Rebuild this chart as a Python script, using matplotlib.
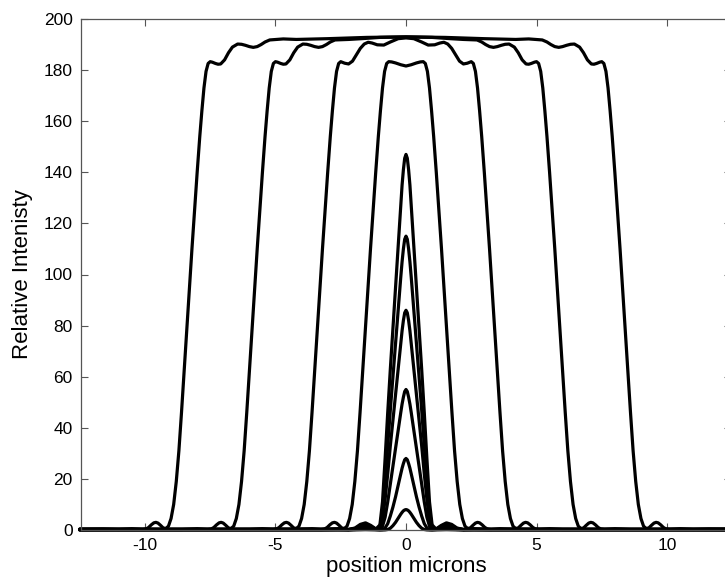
import matplotlib
matplotlib.use("Agg")
import matplotlib.pyplot as plt
import numpy as np

plt.rcParams['font.family'] = ['Liberation Sans', 'DejaVu Sans']
plt.rcParams['axes.unicode_minus'] = False

# ---- data: half-profiles (x >= 0); every curve is symmetric about x = 0 ----
# wide (plateau) curves
a_x = [0, 0.2, 0.4, 0.55, 0.66, 0.74, 0.82, 0.9, 0.98, 1.06, 1.16, 1.26, 1.36, 1.46, 1.56, 1.66, 1.76,
       1.86, 1.96, 2.06, 2.16, 2.26, 2.36, 2.46, 2.56, 2.66, 2.74, 2.82, 2.92, 3.02, 3.12, 3.26, 3.6,
       4.1, 12.5]
a_y = [181.6, 182.1, 182.8, 183.2, 183.3, 182.6, 179.5, 173, 164, 154, 140, 125, 110, 94, 78, 62, 46,
       31, 19, 10, 4.5, 1.5, 0.6, 0.8, 1.8, 2.7, 3.0, 2.8, 2.0, 1.0, 0.4, 0.2, 0.5,
       0.2, 0.3]

b_x = [0, 0.3, 0.6, 0.85, 1.1, 1.3, 1.45, 1.6, 1.75, 1.9, 2.05, 2.2, 2.35, 2.5, 2.58, 2.66, 2.74, 2.82,
       2.9, 3.0, 3.1, 3.2, 3.3, 3.4, 3.5, 3.6, 3.7, 3.8, 3.9, 4.0, 4.1, 4.2, 4.3, 4.4, 4.5, 4.58,
       4.66, 4.76, 4.86, 4.96, 5.1, 5.5, 6.0, 12.5]
b_y = [192.6, 192.3, 191.0, 189.8, 189.9, 190.6, 190.9, 190.2, 188.5, 186, 183.5, 182.4, 182.7, 183.3, 182.6, 179.5, 173, 164,
       154, 140, 125, 110, 94, 78, 62, 46, 31, 19, 10, 4.5, 1.5, 0.6, 0.8, 1.8, 2.7, 3.0,
       2.8, 2.0, 1.0, 0.4, 0.2, 0.5, 0.2, 0.3]

c_x = [0, 1.0, 1.7, 2.2, 2.72, 2.9, 3.05, 3.2, 3.35, 3.5, 3.65, 3.8, 3.95, 4.15, 4.3, 4.45, 4.6, 4.7,
       4.8, 4.92, 5.0, 5.08, 5.16, 5.24, 5.32, 5.4, 5.5, 5.6, 5.7, 5.8, 5.9, 6.0, 6.1, 6.2, 6.3,
       6.4, 6.5, 6.6, 6.7, 6.8, 6.9, 7.0, 7.08, 7.16, 7.26, 7.36, 7.46, 7.6, 8.0, 8.6, 12.5]
c_y = [193.0, 192.8, 192.3, 192.0, 191.8, 191.0, 190.0, 189.2, 188.9, 189.2, 189.7, 190.1, 190.2, 189.0, 186.8, 184.0, 182.4, 182.3,
       182.6, 183.1, 183.3, 182.6, 179.5, 173, 164, 154, 140, 125, 110, 94, 78, 62, 46, 31, 19,
       10, 4.5, 1.5, 0.6, 0.8, 1.8, 2.7, 3.0, 2.8, 2.0, 1.0, 0.4, 0.2, 0.5, 0.2, 0.3]

d_x = [0, 1.5, 3.0, 4.2, 4.7, 5.22, 5.4, 5.55, 5.7, 5.85, 6.0, 6.15, 6.3, 6.45, 6.65, 6.8, 6.95, 7.1,
       7.2, 7.3, 7.42, 7.5, 7.58, 7.66, 7.74, 7.82, 7.9, 8.0, 8.1, 8.2, 8.3, 8.4, 8.5, 8.6, 8.7,
       8.8, 8.9, 9.0, 9.1, 9.2, 9.3, 9.4, 9.5, 9.58, 9.66, 9.76, 9.86, 9.96, 10.1, 10.5, 11.0,
       11.6, 12.5]
d_y = [193.0, 192.8, 192.3, 192.0, 192.2, 191.8, 191.0, 190.0, 189.2, 188.9, 189.2, 189.7, 190.1, 190.2, 189.0, 186.8, 184.0, 182.4,
       182.3, 182.6, 183.1, 183.3, 182.6, 179.5, 173, 164, 154, 140, 125, 110, 94, 78, 62, 46, 31,
       19, 10, 4.5, 1.5, 0.6, 0.8, 1.8, 2.7, 3.0, 2.8, 2.0, 1.0, 0.4, 0.2, 0.5, 0.2,
       0.4, 0.3]

# narrow central peaks
p_x = [0, 0.05, 0.1, 0.15, 0.2, 0.3, 0.4, 0.5, 0.6, 0.7, 0.8, 0.9, 1.0, 1.15, 1.35, 1.55, 1.75, 1.95,
       2.2, 2.6, 3.2, 4.0, 12.5]
p147 = [147, 145.5, 141, 135, 127, 111, 95, 79, 63, 46, 28, 11, 2, 0.4, 1.8, 2.8, 2.2, 0.8,
        0.2, 0.5, 0.3, 0.4, 0.2]
p115 = [115, 113.8, 110, 105, 99, 86, 73, 60, 47, 33, 19, 7, 1.2, 0.3, 1.4, 2.2, 1.7, 0.6,
        0.2, 0.4, 0.3, 0.3, 0.2]
p86 = [86, 85, 82, 78, 73, 63, 53, 43, 33, 22, 12, 4, 0.8, 0.3, 1.0, 1.6, 1.3, 0.5,
       0.2, 0.3, 0.2, 0.2, 0.1]
p55 = [55, 54.2, 52, 49.3, 46, 39, 32, 25, 18, 11, 5, 1.5, 0.4, 0.3, 0.7, 1.0, 0.8, 0.3,
       0.1, 0.2, 0.1, 0.1, 0.1]
p28 = [28, 27.5, 26, 24.2, 22, 17.5, 13, 9, 5.5, 2.5, 0.8, 0.2, 0.1, 0.2, 0.4, 0.5, 0.4, 0.2,
       0.1, 0.1, 0.1, 0.1, 0.1]
p8 = [8, 7.85, 7.5, 6.9, 6.2, 4.6, 3.0, 1.7, 0.7, 0.2, 0.05, 0, 0, 0.05, 0.1, 0.15, 0.1, 0.05,
      0, 0, 0, 0, 0]

x_ticks = [-10, -5, 0, 5, 10]
y_ticks = [0, 20, 40, 60, 80, 100, 120, 140, 160, 180, 200]

curves = [(a_x, a_y), (b_x, b_y), (c_x, c_y), (d_x, d_y),
          (p_x, p147), (p_x, p115), (p_x, p86), (p_x, p55), (p_x, p28), (p_x, p8)]

fig = plt.figure(figsize=(7.25, 5.88), dpi=100)
ax = fig.add_axes([81 / 725, 58 / 588, 650 / 725, 511 / 588])

for hx, hy in curves:
    hx = np.asarray(hx, float)
    hy = np.asarray(hy, float)
    full_x = np.concatenate([-hx[::-1], hx[1:]])
    full_y = np.concatenate([hy[::-1], hy[1:]])
    ax.plot(full_x, full_y, color='black', lw=2.3, solid_joinstyle='round',
            solid_capstyle='round', clip_on=False)

ax.set_xlim(-12.45, 12.45)
ax.set_ylim(0, 200)
ax.set_xticks(x_ticks)
ax.set_yticks(y_ticks)
ax.tick_params(direction='in', length=5, width=0.8, color='#555555', labelsize=12.5,
               top=True, right=True, pad=6)
for s in ax.spines.values():
    s.set_color('#555555')
    s.set_linewidth(0.9)
ax.set_xlabel('position microns', fontsize=16, labelpad=2)
ax.set_ylabel('Relative Intenisty', fontsize=16, labelpad=8)

fig.savefig('out.png', dpi=100)
